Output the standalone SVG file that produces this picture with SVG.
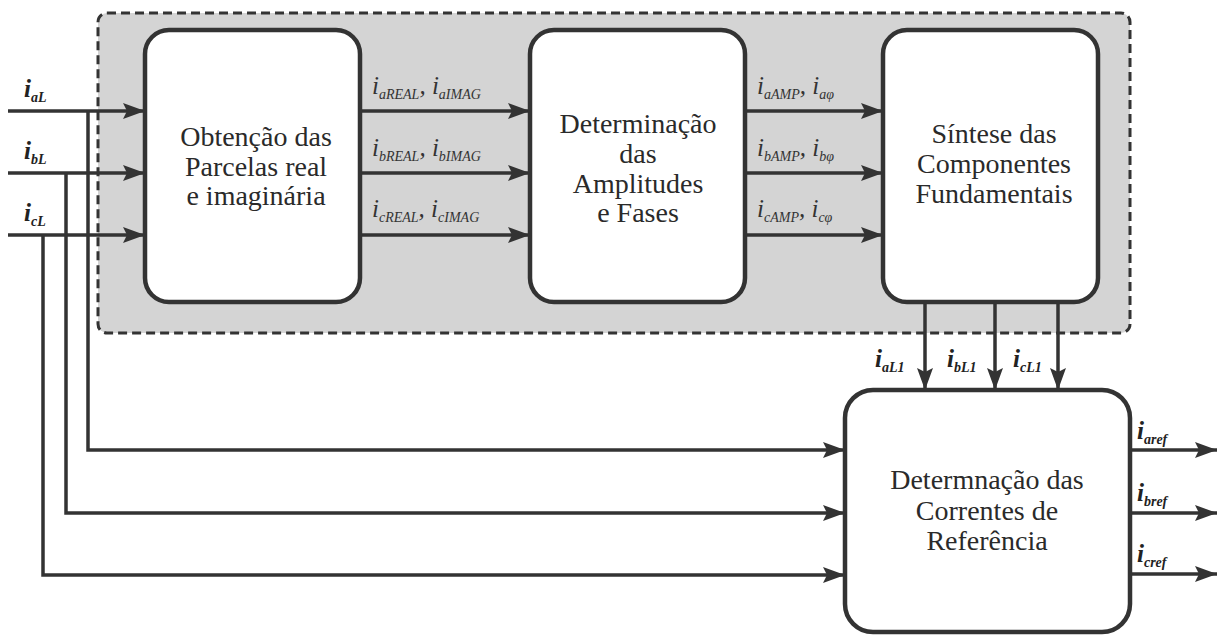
<svg xmlns="http://www.w3.org/2000/svg" width="1220" height="635" viewBox="0 0 1220 635">
  <style>
    .block { fill: #ffffff; stroke: #333333; stroke-width: 4.5; }
    .group { fill: #d4d4d4; stroke: #333333; stroke-width: 3; stroke-dasharray: 9 5; }
    .arrow { fill: none; stroke: #333333; stroke-width: 3.5; marker-end: url(#head); }
    .caption { font-size: 28px; fill: #2a2a2a; text-anchor: middle; }
    .sig { font-style: italic; font-size: 25px; fill: #333333; }
    .io { font-weight: bold; fill: #222222; }
    .sub { font-size: 14px; }
  </style>
  <defs>
    <marker id="head" viewBox="0 0 22 16" refX="22" refY="8" markerWidth="22" markerHeight="16" markerUnits="userSpaceOnUse" orient="auto">
      <path d="M0,0 L22,8 L0,16 L4,8 z" fill="#333333"/>
    </marker>
  </defs>

  <!-- shaded processing group -->
  <g id="processing-group">
    <rect class="group" x="98" y="13" width="1032" height="320" rx="9"/>
  </g>

  <!-- connectors -->
  <g id="connectors">
    <!-- phase load currents into the first block -->
    <line class="arrow" x1="8" y1="111" x2="145" y2="111"/>
    <line class="arrow" x1="8" y1="173" x2="145" y2="173"/>
    <line class="arrow" x1="8" y1="235" x2="145" y2="235"/>
    <!-- branches down to the reference block -->
    <polyline class="arrow" points="88,111 88,450 845,450"/>
    <polyline class="arrow" points="66,173 66,513 845,513"/>
    <polyline class="arrow" points="43,235 43,575 845,575"/>
    <!-- block 1 to block 2 -->
    <line class="arrow" x1="360" y1="111" x2="530" y2="111"/>
    <line class="arrow" x1="360" y1="173" x2="530" y2="173"/>
    <line class="arrow" x1="360" y1="235" x2="530" y2="235"/>
    <!-- block 2 to block 3 -->
    <line class="arrow" x1="745" y1="111" x2="883" y2="111"/>
    <line class="arrow" x1="745" y1="173" x2="883" y2="173"/>
    <line class="arrow" x1="745" y1="235" x2="883" y2="235"/>
    <!-- fundamental components down to block 4 -->
    <line class="arrow" x1="925" y1="302" x2="925" y2="390"/>
    <line class="arrow" x1="995" y1="302" x2="995" y2="390"/>
    <line class="arrow" x1="1058" y1="302" x2="1058" y2="390"/>
    <!-- reference outputs -->
    <line class="arrow" x1="1130" y1="450" x2="1217" y2="450"/>
    <line class="arrow" x1="1130" y1="513" x2="1217" y2="513"/>
    <line class="arrow" x1="1130" y1="574" x2="1217" y2="574"/>
  </g>

  <g id="block-parcelas" font-family="Liberation Serif, DejaVu Serif, serif">
    <rect class="block" x="145" y="30" width="215" height="272" rx="24"/>
    <text class="caption" x="256" y="146">Obtenção das</text>
    <text class="caption" x="256" y="176">Parcelas real</text>
    <text class="caption" x="256" y="205">e imaginária</text>
  </g>

  <g id="block-amplitudes" font-family="Liberation Serif, DejaVu Serif, serif">
    <rect class="block" x="530" y="30" width="215" height="272" rx="24"/>
    <text class="caption" x="638" y="133">Determinação</text>
    <text class="caption" x="638" y="163">das</text>
    <text class="caption" x="638" y="193">Amplitudes</text>
    <text class="caption" x="638" y="222">e Fases</text>
  </g>

  <g id="block-sintese" font-family="Liberation Serif, DejaVu Serif, serif">
    <rect class="block" x="883" y="30" width="215" height="272" rx="24"/>
    <text class="caption" x="994" y="143">Síntese das</text>
    <text class="caption" x="994" y="173">Componentes</text>
    <text class="caption" x="994" y="203">Fundamentais</text>
  </g>

  <g id="block-referencia" font-family="Liberation Serif, DejaVu Serif, serif">
    <rect class="block" x="845" y="390" width="285" height="242" rx="28"/>
    <text class="caption" x="987" y="489">Determnação das</text>
    <text class="caption" x="987" y="520">Correntes de</text>
    <text class="caption" x="987" y="550">Referência</text>
  </g>

  <!-- signal labels -->
  <g id="labels" font-family="Liberation Serif, DejaVu Serif, serif">
    <text class="sig io" x="24" y="97">i<tspan class="sub" dy="5">aL</tspan></text>
    <text class="sig io" x="24" y="159">i<tspan class="sub" dy="5">bL</tspan></text>
    <text class="sig io" x="24" y="221">i<tspan class="sub" dy="5">cL</tspan></text>

    <text class="sig" x="372" y="94">i<tspan class="sub" dy="5">aREAL</tspan><tspan dy="-5">, i</tspan><tspan class="sub" dy="5">aIMAG</tspan></text>
    <text class="sig" x="372" y="156">i<tspan class="sub" dy="5">bREAL</tspan><tspan dy="-5">, i</tspan><tspan class="sub" dy="5">bIMAG</tspan></text>
    <text class="sig" x="372" y="217">i<tspan class="sub" dy="5">cREAL</tspan><tspan dy="-5">, i</tspan><tspan class="sub" dy="5">cIMAG</tspan></text>

    <text class="sig" x="757" y="94">i<tspan class="sub" dy="5">aAMP</tspan><tspan dy="-5">, i</tspan><tspan class="sub" dy="5">aφ</tspan></text>
    <text class="sig" x="757" y="156">i<tspan class="sub" dy="5">bAMP</tspan><tspan dy="-5">, i</tspan><tspan class="sub" dy="5">bφ</tspan></text>
    <text class="sig" x="757" y="217">i<tspan class="sub" dy="5">cAMP</tspan><tspan dy="-5">, i</tspan><tspan class="sub" dy="5">cφ</tspan></text>

    <text class="sig io" x="875" y="367">i<tspan class="sub" dy="5">aL1</tspan></text>
    <text class="sig io" x="947" y="367">i<tspan class="sub" dy="5">bL1</tspan></text>
    <text class="sig io" x="1013" y="367">i<tspan class="sub" dy="5">cL1</tspan></text>

    <text class="sig io" x="1137" y="439">i<tspan class="sub" dy="5">aref</tspan></text>
    <text class="sig io" x="1137" y="501">i<tspan class="sub" dy="5">bref</tspan></text>
    <text class="sig io" x="1137" y="562">i<tspan class="sub" dy="5">cref</tspan></text>
  </g>
</svg>
